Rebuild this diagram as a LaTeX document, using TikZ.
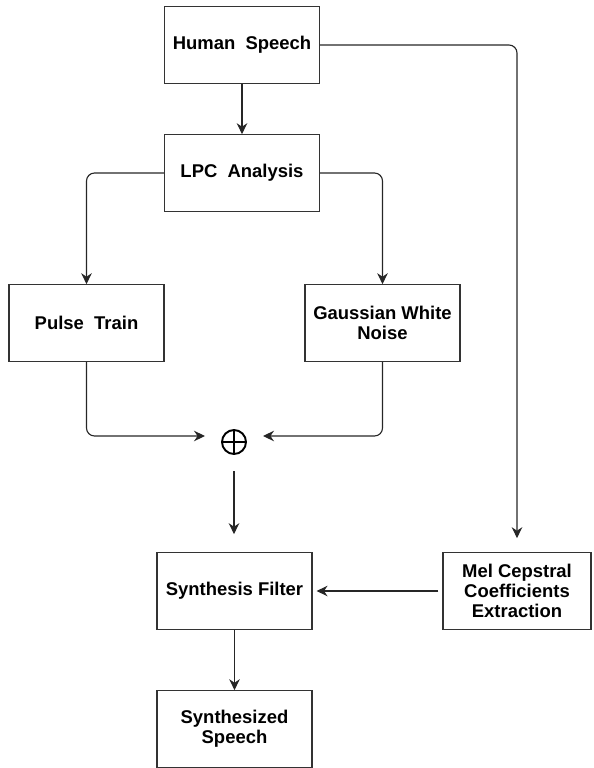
\documentclass[tikz,border=0pt]{standalone}
\usepackage{fontspec}
\setmainfont{Liberation Sans}
\usepackage{tikz}
\usetikzlibrary{arrows.meta}
\tikzset{
  block/.style={draw=black!80, line width=0.65pt, minimum width=3.1cm,
    minimum height=1.53cm, align=center, inner sep=2pt,
    font=\fontsize{10.5}{11.3}\selectfont\bfseries},
  arr/.style={draw=black!85, line width=0.65pt,
    -{Stealth[length=0.22cm,width=0.21cm]}},
  summer/.style={circle, draw, line width=1.1pt, minimum size=0.48cm,
    inner sep=0pt, outer sep=0.34cm,
    path picture={\draw[line width=1.1pt]
      (path picture bounding box.north) -- (path picture bounding box.south)
      (path picture bounding box.west) -- (path picture bounding box.east);}}
}
\begin{document}
\begin{tikzpicture}[x=0.02cm, y=-0.02cm]
\useasboundingbox (0,0) rectangle (593,768);

\node[block] at (242,45) (hs) {Human~~Speech};
\node[block] at (242,173) (lpc) {LPC~~Analysis};
\node[block] at (86.5,323) (pulse) {Pulse~~Train};
\node[block] at (382.5,323) (gwn) {Gaussian White\\Noise};
\node[summer] at (234,442) (sum) {};
\node[block] at (234.5,591) (synth) {Synthesis Filter};
\node[block, minimum width=2.96cm] at (517,591) (mel)
    {Mel Cepstral\\Coefficients\\Extraction};
\node[block] at (234.5,729) (out) {Synthesized\\Speech};

\draw[arr] (hs) -- (lpc);
\draw[arr, rounded corners=0.16cm] (lpc.west) -| (pulse.north);
\draw[arr, rounded corners=0.16cm] (lpc.east) -| (gwn.north);
\draw[arr, rounded corners=0.16cm] (pulse.south) |- ([yshift=0.12cm]sum.west);
\draw[arr, rounded corners=0.16cm] (gwn.south) |- ([yshift=0.12cm]sum.east);
\draw[arr, shorten >=0.36cm] (sum) -- (sum |- synth.north);
\draw[arr, rounded corners=0.16cm, shorten >=0.28cm] (hs.east) -| (mel.north);
\draw[arr, shorten <=0.08cm, shorten >=0.08cm] (mel.west) -- (synth.east);
\draw[arr] (synth) -- (out);
\end{tikzpicture}
\end{document}
